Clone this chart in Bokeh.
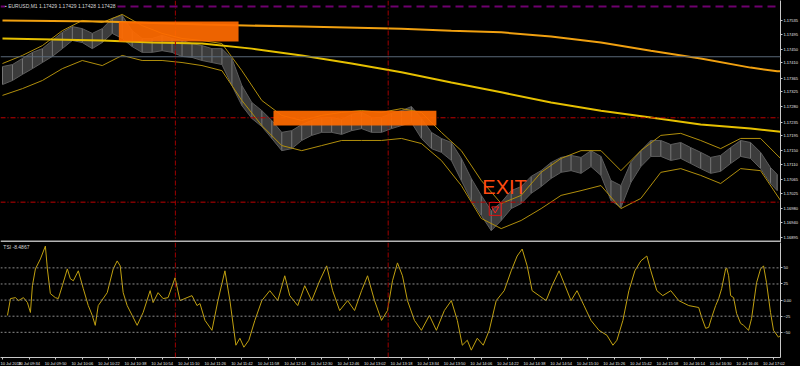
from bokeh.plotting import figure
from bokeh.models import Range1d, FixedTicker, Span, Label, BoxAnnotation, PrintfTickFormatter
from bokeh.layouts import column
from bokeh.embed import file_html
from bokeh.resources import INLINE

# ---------------- data (x = minutes after 10 Jul 2018 09:18, EURUSD M1) ----------------
tick_minutes = list(range(0, 465, 16))
tick_labels = ["10 Jul 2018", "10 Jul 09:34", "10 Jul 09:50", "10 Jul 10:06", "10 Jul 10:22",
               "10 Jul 10:38", "10 Jul 10:54", "10 Jul 11:10", "10 Jul 11:26", "10 Jul 11:42",
               "10 Jul 11:58", "10 Jul 12:14", "10 Jul 12:30", "10 Jul 12:46", "10 Jul 13:02",
               "10 Jul 13:18", "10 Jul 13:34", "10 Jul 13:50", "10 Jul 14:06", "10 Jul 14:22",
               "10 Jul 14:38", "10 Jul 14:54", "10 Jul 15:10", "10 Jul 15:26", "10 Jul 15:42",
               "10 Jul 15:58", "10 Jul 16:14", "10 Jul 16:30", "10 Jul 16:46", "10 Jul 17:02"]
price_ticks = [1.17535, 1.17495, 1.17450, 1.17410, 1.17365, 1.17325, 1.17280, 1.17235,
               1.17195, 1.17150, 1.17110, 1.17065, 1.17025, 1.16980, 1.16940, 1.16895]

bar_minutes = list(range(0, 463, 6)) + [466]
bar_high = [1.17399, 1.17405, 1.17423, 1.17441, 1.17452, 1.17476, 1.17500, 1.17517, 1.17511, 1.17497,
            1.17511, 1.17541, 1.17550, 1.17505, 1.17482, 1.17482, 1.17491, 1.17482, 1.17476, 1.17467,
            1.17461, 1.17452, 1.17452, 1.17423, 1.17343, 1.17293, 1.17269, 1.17240, 1.17205, 1.17210,
            1.17228, 1.17240, 1.17249, 1.17249, 1.17243, 1.17258, 1.17264, 1.17249, 1.17249, 1.17261,
            1.17269, 1.17281, 1.17246, 1.17205, 1.17187, 1.17175, 1.17128, 1.17069, 1.17019, 1.16974,
            1.16998, 1.17033, 1.17045, 1.17075, 1.17092, 1.17116, 1.17131, 1.17137, 1.17131, 1.17151,
            1.17134, 1.17063, 1.17048, 1.17116, 1.17151, 1.17181, 1.17181, 1.17169, 1.17175, 1.17160,
            1.17146, 1.17131, 1.17137, 1.17160, 1.17181, 1.17175, 1.17146, 1.17101, 1.17081]
bar_low = [1.17346, 1.17358, 1.17376, 1.17393, 1.17411, 1.17429, 1.17452, 1.17476, 1.17470, 1.17452,
           1.17470, 1.17497, 1.17482, 1.17458, 1.17441, 1.17441, 1.17446, 1.17441, 1.17429, 1.17426,
           1.17417, 1.17411, 1.17405, 1.17343, 1.17284, 1.17246, 1.17222, 1.17187, 1.17151, 1.17157,
           1.17181, 1.17196, 1.17205, 1.17205, 1.17199, 1.17210, 1.17216, 1.17205, 1.17205, 1.17216,
           1.17225, 1.17234, 1.17187, 1.17157, 1.17146, 1.17122, 1.17063, 1.17004, 1.16960, 1.16915,
           1.16945, 1.16980, 1.16995, 1.17025, 1.17045, 1.17069, 1.17087, 1.17092, 1.17084, 1.17104,
           1.17078, 1.17004, 1.16983, 1.17057, 1.17104, 1.17134, 1.17134, 1.17122, 1.17128, 1.17113,
           1.17098, 1.17084, 1.17090, 1.17113, 1.17134, 1.17128, 1.17098, 1.17054, 1.17033]

band_minutes = list(range(0, 469, 12))
band_upper = [1.17408, 1.17432, 1.17461, 1.17505, 1.17535, 1.17529, 1.17553, 1.17520, 1.17497, 1.17482,
              1.17476, 1.17467, 1.17387, 1.17299, 1.17255, 1.17240, 1.17255, 1.17264, 1.17269, 1.17264,
              1.17275, 1.17264, 1.17205, 1.17151, 1.17063, 1.16995, 1.17019, 1.17087, 1.17128, 1.17151,
              1.17151, 1.17092, 1.17151, 1.17196, 1.17202, 1.17181, 1.17157, 1.17187, 1.17187, 1.17128]
band_lower = [1.17314, 1.17334, 1.17358, 1.17393, 1.17417, 1.17402, 1.17432, 1.17417, 1.17417, 1.17411,
              1.17402, 1.17387, 1.17299, 1.17225, 1.17166, 1.17151, 1.17166, 1.17181, 1.17181, 1.17181,
              1.17187, 1.17172, 1.17122, 1.17048, 1.16951, 1.16921, 1.16945, 1.16980, 1.17019, 1.17033,
              1.17048, 1.16980, 1.17010, 1.17087, 1.17098, 1.17078, 1.17054, 1.17098, 1.17092, 1.17004]

ma_slow_minutes = [0, 60, 120, 180, 240, 270, 300, 330, 360, 390, 420, 450, 466, 468]
ma_slow = [1.17535, 1.17532, 1.17523, 1.17517, 1.17511, 1.17505, 1.17500, 1.17488, 1.17470,
           1.17446, 1.17423, 1.17396, 1.17385, 1.17385]
ma_fast_minutes = [0, 30, 60, 90, 120, 150, 180, 210, 240, 270, 300, 330, 360, 390, 420, 450, 468]
ma_fast = [1.17482, 1.17479, 1.17476, 1.17470, 1.17467, 1.17452, 1.17432, 1.17408, 1.17382,
           1.17352, 1.17323, 1.17293, 1.17269, 1.17249, 1.17228, 1.17216, 1.17207]

zones = [  # (start minute, end minute, top price, bottom price)
    (70, 142, 1.17532, 1.17473),
    (163, 261, 1.17269, 1.17225),
]

tsi_minutes = [3, 4.8, 7.8, 9.6, 12.6, 15, 16.8, 18, 19.8, 22.8, 25.8, 27, 28.8, 31.8, 33.6, 36, 39,
               40.8, 42.6, 45.6, 48.6, 51.6, 54, 55.8, 57.6, 63, 66.6, 69, 70.8, 72.6, 75, 78, 81,
               84.6, 88.8, 90.6, 93.6, 96.6, 99.6, 103.8, 106.8, 111, 114, 117, 118.8,
               121.8, 126, 129.6, 133.8, 136.8, 140.4, 142.8, 145.2, 148.2, 151.8, 156, 160.8,
               165.6, 169.8, 172.8, 177.6, 181.8, 186, 190.8, 195, 198.6, 202.8, 207.6, 211.8,
               216, 219.6, 223.8, 228, 231.6, 234.6, 237.6, 240.6, 243.6, 247.8, 252, 256.8, 261,
               265.8, 270, 273.6, 276.6, 279.6, 282, 285.6, 289.2, 292.8, 297, 301.8, 306, 309.6,
               312.6, 315.6, 318.6, 322.8, 327, 330.6, 334.8, 338.4, 342, 345.6, 349.8, 354,
               358.8, 363.6, 367.2, 369.6, 373.2, 376.8, 380.4, 384, 387.6, 390, 393.6, 397.2,
               402, 406.8, 412.8, 418.8, 420.6, 423, 424.8, 426.6, 429, 430.8, 432.6, 435, 435.6,
               436.8, 438, 439.8, 441.6, 444, 445.8, 448.8, 450.6, 453.6, 456, 457.8, 459.6, 462,
               463.8, 466.8, 468]
tsi_values = [-23.8, 2.3, 3.8, -0.8, 3.8, -3.8, -19.2, 22.3, 48.4, 63.8, 83.8, 48.4, 10.0, 3.8, 2.3,
              22.3, 48.4, 33.1, 30.0, 45.4, 17.7, -8.5, -23.8, -39.2, -8.5, 11.5, 48.4, 60.8, 53.1,
              11.5, -8.5, -23.8, -39.2, -19.2, 14.6, -3.8, 11.5, 2.3, 3.8, 34.6, -0.8, 3.8, 6.9,
              -8.5, -5.4,
              -31.5, -46.9, -0.8, 45.4, -0.8, -70.0, -59.2, -73.1, -62.3, -31.5, -0.8, 14.6,
              -0.8, 37.7, 6.9, -8.5, 22.3, -0.8, 30.0, 53.1, 14.6, -16.2, -0.8, -16.2,
              14.6, 37.7, -0.8, -31.5, -16.2, 30.0, 57.7, 37.7, -0.8, -31.5, -46.9, -23.8, -46.9,
              -16.2, -0.8, -31.5, -70.0, -62.3, -77.7, -59.2, -70.0, -46.9, -0.8, 14.6, 45.4, 68.4,
              79.2, 53.1, 14.6, 6.9, -0.8, 22.3, 45.4, 22.3, -0.8, 14.6, -8.5, -31.5,
              -46.9, -54.6, -70.0, -62.3, -31.5, 14.6, 45.4, 60.8, 68.4, 45.4, 14.6, 6.9,
              14.6, -0.8, -8.5, -11.5, -26.9, -43.8, -42.3, -26.9, -8.5, 2.3, 17.7, 48.4, 50.0,
              37.7, 6.9, 3.8, -20.8, -36.1, -39.2, -46.9, -28.5, 26.9, 48.4, 53.1, 26.9, -19.2,
              -46.9, -57.7, -54.6]
tsi_levels = [50, 25, 0, -25, -50]
tsi_top, tsi_bottom = 89.3452, -89.0717

vlines = [(104, "10 Jul 11:02"), (232, "10 Jul 13:10")]
hlines_red = [1.17248, 1.16999]
line_magenta = 1.17576
bid_price = 1.17428
exit_pos = (302, 1.17043)
exit_box = (292.8, 300.0, 1.16998, 1.16960)

FONT = "Liberation Sans"
X0, X1 = -1.2, 468.0
P0, P1 = 1.16880, 1.17594
FW = 780
AX_FS = "4px"


def style_axis(ax):
    ax.axis_line_color = "#c8c8c8"
    ax.major_tick_line_color = "#c8c8c8"
    ax.major_tick_out = 2
    ax.major_tick_in = 0
    ax.minor_tick_line_color = None
    ax.major_label_text_font_size = AX_FS
    ax.major_label_text_color = "#e8e8e8"
    ax.major_label_text_font = FONT
    ax.major_label_standoff = 1


# ---------------- main price window ----------------
p1 = figure(frame_width=FW, frame_height=242, x_range=Range1d(X0, X1), y_range=Range1d(P0, P1),
            y_axis_location="right", x_axis_location=None, output_backend="svg",
            toolbar_location=None, min_border_left=0, min_border_top=0, min_border_bottom=0,
            min_border_right=20, background_fill_color="black", border_fill_color="black",
            outline_line_color=None)
p1.grid.visible = False
ya = p1.yaxis[0]
ya.ticker = FixedTicker(ticks=price_ticks)
ya.formatter = PrintfTickFormatter(format="%.5f")
style_axis(ya)

# price bars
p1.varea(x=bar_minutes, y1=bar_low, y2=bar_high, fill_color="#3c3c3c")
p1.segment(x0=bar_minutes, x1=bar_minutes, y0=bar_low, y1=bar_high, line_color="#767676", line_width=1)
p1.line(bar_minutes, bar_high, line_color="#5c5c5c", line_width=1)
p1.line(bar_minutes, bar_low, line_color="#5c5c5c", line_width=1)

# envelopes
p1.line(band_minutes, band_upper, line_color="#b08e0c", line_width=1)
p1.line(band_minutes, band_lower, line_color="#b08e0c", line_width=1)
# moving averages
p1.line(ma_slow_minutes, ma_slow, line_color="#f0a010", line_width=2)
p1.line(ma_fast_minutes, ma_fast, line_color="#e6c000", line_width=2)

# horizontal / vertical lines
p1.add_layout(Span(location=line_magenta, dimension="width", line_color="#6e006e", line_width=2, line_dash="8 5"))
p1.add_layout(Span(location=bid_price, dimension="width", line_color="#5a6878", line_width=1))
for h in hlines_red:
    p1.add_layout(Span(location=h, dimension="width", line_color="#c00000", line_width=1, line_dash="5 2 1 2"))
for (m, _) in vlines:
    p1.add_layout(Span(location=m, dimension="height", line_color="#a00000", line_width=1, line_dash="5 2 1 2"))

# zones (drawn over the lines)
for (a, b, t, bt) in zones:
    p1.add_layout(BoxAnnotation(left=a, right=b, top=t, bottom=bt, fill_color="#ff6a00", fill_alpha=0.93,
                                line_color=None))

# exit marker
p1.add_layout(Label(x=exit_pos[0], y=exit_pos[1], text="EXIT", text_color="#ff4a10", text_font_size="20px",
                    text_font=FONT, text_align="center", text_baseline="alphabetic"))
p1.quad(left=exit_box[0], right=exit_box[1], top=exit_box[2], bottom=exit_box[3], fill_color=None,
        line_color="#e01010", line_width=1)
p1.scatter(x=[(exit_box[0] + exit_box[1]) / 2], y=[(exit_box[2] + exit_box[3]) / 2], marker="inverted_triangle",
           size=7, fill_color=None, line_color="#ff2020", line_width=1)

# separator between windows
p1.add_layout(BoxAnnotation(bottom=P0, top=P0 + 0.00006, fill_color="#b4b4b4", fill_alpha=1, line_color=None))

# title
p1.add_layout(Label(x=1.5, y=1.17577, text="\u25aa EURUSD,M1  1.17429 1.17429 1.17428 1.17428",
                    text_color="#d8d8d8", text_font_size="5px", text_font=FONT, text_baseline="middle",
                    background_fill_color="black"))


# price tags on the axis
def tag(fig, y, text, bg, fg):
    fig.add_layout(Label(x=X1 + 0.4, y=y, text=text, text_font_size=AX_FS, text_font=FONT,
                         text_color=fg, background_fill_color=bg, text_baseline="middle",
                         text_align="left", padding=1))


tag(p1, line_magenta, "1.17576", "#ff00ff", "white")
tag(p1, bid_price, "1.17428", "white", "black")
tag(p1, hlines_red[0], "1.17248", "#ff0000", "white")
tag(p1, hlines_red[1], "1.16999", "#ff0000", "white")

# ---------------- TSI window ----------------
p2 = figure(frame_width=FW, frame_height=115, x_range=p1.x_range, y_range=Range1d(tsi_bottom, tsi_top),
            y_axis_location="right", output_backend="svg", toolbar_location=None,
            min_border_left=0, min_border_top=0, min_border_bottom=0, min_border_right=20,
            background_fill_color="black", border_fill_color="black", outline_line_color=None)
p2.grid.visible = False
ya2 = p2.yaxis[0]
ya2.ticker = FixedTicker(ticks=tsi_levels)
ya2.major_label_overrides = {0: "0.00"}
style_axis(ya2)
xa = p2.xaxis[0]
xa.ticker = FixedTicker(ticks=tick_minutes)
xa.major_label_overrides = {m: l for m, l in zip(tick_minutes, tick_labels)}
xa.major_label_text_align = "left"
style_axis(xa)

for lv in tsi_levels:
    p2.add_layout(Span(location=lv, dimension="width", line_color="#8c8c8c", line_width=1, line_dash="2 2"))
for (m, _) in vlines:
    p2.add_layout(Span(location=m, dimension="height", line_color="#a00000", line_width=1, line_dash="5 2 1 2"))
p2.line(tsi_minutes, tsi_values, line_color="#c0a010", line_width=1)

p2.add_layout(Label(x=0.5, y=tsi_top - 3, text="TSI -8.4867", text_color="#d8d8d8", text_font_size="5px",
                    text_font=FONT, text_baseline="top"))
p2.add_layout(Label(x=X1 + 0.6, y=tsi_top - 2.5, text="89.3452", text_color="#e8e8e8", text_font_size=AX_FS,
                    text_font=FONT, text_baseline="top"))
p2.add_layout(Label(x=X1 + 0.6, y=tsi_bottom + 5.5, text="-89.0717", text_color="#e8e8e8", text_font_size=AX_FS,
                    text_font=FONT, text_baseline="bottom"))
for (m, lab) in vlines:
    p2.add_layout(Label(x=m, y=tsi_bottom - 8.5, text=lab, text_color="white", text_font_size=AX_FS,
                        text_font=FONT, text_align="center", text_baseline="middle",
                        background_fill_color="#ff0000", padding=1))

layout = column(p1, p2, spacing=0, styles={"background-color": "black"})
open("out.html", "w").write(file_html(layout, INLINE))
